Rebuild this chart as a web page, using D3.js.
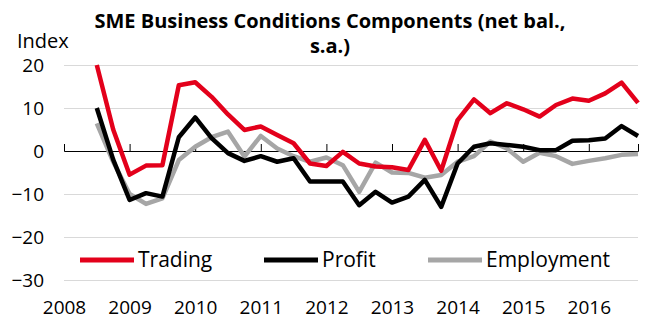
<!DOCTYPE html>
<html>
<head>
<meta charset="utf-8">
<script src="https://cdn.jsdelivr.net/npm/d3@7"></script>
<style>
  body { margin: 0; background: #fff; }
  svg { display: block; font-family: "Open Sans", sans-serif; }
</style>
</head>
<body>
<div id="viz"></div>
<script>
// quarterly survey readings, 2008Q3 to 2016Q4
const quarters = ["2008Q3","2008Q4","2009Q1","2009Q2","2009Q3","2009Q4","2010Q1","2010Q2",
  "2010Q3","2010Q4","2011Q1","2011Q2","2011Q3","2011Q4","2012Q1","2012Q2","2012Q3","2012Q4",
  "2013Q1","2013Q2","2013Q3","2013Q4","2014Q1","2014Q2","2014Q3","2014Q4","2015Q1","2015Q2",
  "2015Q3","2015Q4","2016Q1","2016Q2","2016Q3","2016Q4"];
const trading = [20, 5, -5.5, -3.4, -3.3, 15.3, 16, 12.6, 8.5, 4.9, 5.7, 3.7, 1.8, -2.9, -3.5, -0.2, -2.9,
  -3.6, -3.8, -4.4, 2.6, -4.6, 7.2, 12, 8.8, 11.1, 9.7, 8, 10.7, 12.2, 11.7, 13.4, 15.9, 11.2];
const profit = [10, -2, -11.4, -9.8, -10.6, 3.2, 7.8, 3, -0.5, -2.3, -1.2, -2.5, -1.7, -7.1, -7.1, -7.1, -12.6,
  -9.5, -12, -10.6, -6.7, -13, -2.9, 1, 1.8, 1.4, 1, 0.2, 0.2, 2.4, 2.5, 2.9, 5.8, 3.5];
const employment = [6.4, -2.5, -10, -12.3, -11, -2.1, 1, 3.2, 4.5, -1.3, 3.5, 0.6, -1.2, -2.5, -1.5, -3.3, -9.5,
  -2.7, -5, -5.1, -6.2, -5.6, -2.5, -1.2, 2.2, 0.6, -2.5, -0.4, -1.2, -3, -2.3, -1.7, -0.9, -0.7];
const years = [2008, 2009, 2010, 2011, 2012, 2013, 2014, 2015, 2016];
const yTicks = [20, 10, 0, -10, -20, -30];

const series = [
  { name: "Employment", values: employment, color: "#a6a6a6" },
  { name: "Profit", values: profit, color: "#000000" },
  { name: "Trading", values: trading, color: "#e3001b" }
];
const legendOrder = ["Trading", "Profit", "Employment"];

// turn "2009Q1" into a decimal year
const qTime = q => +q.slice(0, 4) + (+q.slice(5) - 1) * 0.25;

const width = 650, height = 336;
const svg = d3.select("#viz").append("svg")
  .attr("width", width)
  .attr("height", height);

const x = d3.scaleLinear().domain([2008, 2016.75]).range([64, 638]);
const y = d3.scaleLinear().domain([-30, 20]).range([280, 65]);

// title, two lines
svg.append("text")
  .attr("x", 330).attr("y", 28)
  .attr("text-anchor", "middle")
  .attr("font-size", 20).attr("font-weight", "bold")
  .text("SME Business Conditions Components (net bal.,");
svg.append("text")
  .attr("x", 330).attr("y", 53)
  .attr("text-anchor", "middle")
  .attr("font-size", 20).attr("font-weight", "bold")
  .text("s.a.)");

svg.append("text")
  .attr("x", 17).attr("y", 48)
  .attr("font-size", 20)
  .text("Index");

// gridlines + y labels
const yAxis = svg.append("g")
  .attr("transform", "translate(64,0)")
  .call(d3.axisLeft(y).tickValues(yTicks).tickSize(-(638 - 64)).tickPadding(20));
yAxis.select(".domain").remove();
yAxis.selectAll(".tick line").attr("stroke", "#d9d9d9").attr("stroke-width", 1);
yAxis.selectAll(".tick text")
  .attr("font-size", 19).attr("font-family", "Open Sans").attr("fill", "#000");

// zero line with year ticks
const zeroAxis = svg.append("g")
  .attr("transform", `translate(0,${y(0)})`)
  .call(d3.axisTop(x).tickValues(years).tickSize(7).tickFormat(""));
zeroAxis.selectAll("line, path").attr("stroke", "#000");

// year labels at the bottom
const xLabels = svg.append("g")
  .attr("transform", "translate(0,300)")
  .call(d3.axisBottom(x).tickValues(years).tickSize(0).tickPadding(0).tickFormat(d3.format("d")));
xLabels.select(".domain").remove();
xLabels.selectAll(".tick text")
  .attr("font-size", 19).attr("font-family", "Open Sans").attr("fill", "#000");

const line = d3.line()
  .x((d, i) => x(qTime(quarters[i])))
  .y(d => y(d));

svg.append("g").selectAll("path")
  .data(series)
  .join("path")
  .attr("fill", "none")
  .attr("stroke", d => d.color)
  .attr("stroke-width", 4.5)
  .attr("stroke-linejoin", "round")
  .attr("d", d => line(d.values));

// legend
const legendX = [80, 264, 428];
const legend = svg.append("g").selectAll("g")
  .data(legendOrder.map(n => series.find(s => s.name === n)))
  .join("g")
  .attr("transform", (d, i) => `translate(${legendX[i]},260)`);
legend.append("line")
  .attr("x1", 0).attr("x2", 54)
  .attr("stroke", d => d.color)
  .attr("stroke-width", 5);
legend.append("text")
  .attr("x", 58).attr("y", 7)
  .attr("font-size", 21)
  .text(d => d.name);
</script>
</body>
</html>
